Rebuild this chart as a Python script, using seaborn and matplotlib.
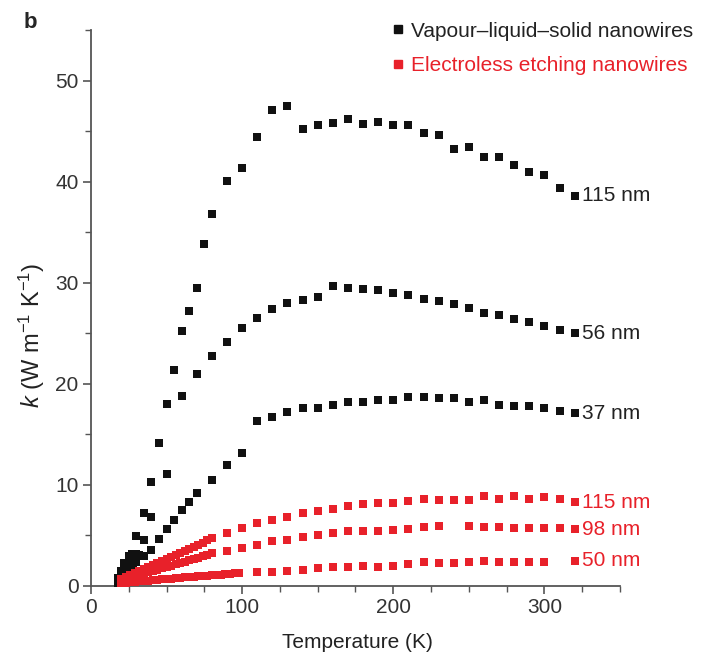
import numpy as np
import pandas as pd
import matplotlib
matplotlib.use('Agg')
import matplotlib.pyplot as plt
from matplotlib.lines import Line2D
from matplotlib.ticker import MultipleLocator
import seaborn as sns

sns.set_theme(style='ticks')
plt.rcParams['font.family'] = ['Liberation Sans Narrow', 'Liberation Sans', 'DejaVu Sans']
plt.rcParams['mathtext.fontset'] = 'custom'
plt.rcParams['mathtext.rm'] = 'Liberation Sans'
plt.rcParams['mathtext.it'] = 'Liberation Sans:italic'

BLACK = '#111111'
RED = '#e8212a'

# Vapour-liquid-solid nanowires
vls115_T = [18, 20, 22, 25, 27, 30, 35, 40, 45, 50, 55, 60, 65, 70, 75, 80, 90, 100, 110, 120, 130,
            140, 150, 160, 170, 180, 190, 200, 210, 220, 230, 240, 250, 260, 270, 280, 290, 300, 310, 320]
vls115_k = [0.8, 1.5, 2.3, 3.0, 3.2, 4.9, 7.2, 10.3, 14.1, 18.0, 21.4, 25.2, 27.2, 29.5, 33.8, 36.8, 40.1, 41.3, 44.4, 47.1, 47.5,
            45.2, 45.6, 45.8, 46.2, 45.7, 45.9, 45.6, 45.6, 44.8, 44.6, 43.2, 43.4, 42.4, 42.4, 41.6, 41.0, 40.7, 39.4, 38.6]

vls56_T = [18, 20, 22, 25, 28, 30, 32, 35, 40, 50, 60, 70, 80, 90, 100, 110, 120, 130, 140, 150, 160, 170,
           180, 190, 200, 210, 220, 230, 240, 250, 260, 270, 280, 290, 300, 310, 320]
vls56_k = [0.5, 1.0, 1.6, 2.3, 3.0, 3.2, 3.1, 4.5, 6.8, 11.1, 18.8, 21.0, 22.8, 24.1, 25.5, 26.5, 27.4, 28.0, 28.3, 28.6, 29.7, 29.5,
           29.4, 29.3, 29.0, 28.8, 28.4, 28.2, 27.9, 27.5, 27.0, 26.8, 26.4, 26.1, 25.7, 25.3, 25.0]

vls37_T = [18, 20, 22, 25, 28, 30, 35, 40, 45, 50, 55, 60, 65, 70, 80, 90, 100, 110, 120, 130, 140, 150, 160,
           170, 180, 190, 200, 210, 220, 230, 240, 250, 260, 270, 280, 290, 300, 310, 320]
vls37_k = [0.3, 0.7, 1.1, 1.6, 2.1, 2.4, 3.0, 3.6, 4.6, 5.6, 6.5, 7.5, 8.3, 9.2, 10.5, 12.0, 13.2, 16.3, 16.7, 17.2, 17.6, 17.6, 17.9,
           18.2, 18.2, 18.4, 18.4, 18.7, 18.7, 18.6, 18.6, 18.2, 18.4, 17.9, 17.8, 17.8, 17.6, 17.3, 17.1]

# Electroless etching nanowires
ee115_T = [20, 23, 26, 29, 32, 35, 38, 41, 44, 47, 50, 53, 56, 59, 62, 65, 68, 71, 74, 77, 80,
           90, 100, 110, 120, 130, 140, 150, 160, 170, 180, 190, 200, 210, 220, 230, 240, 250, 260, 270, 280, 290, 300, 310, 320]
ee115_k = [0.7, 0.9, 1.1, 1.3, 1.5, 1.7, 1.9, 2.1, 2.3, 2.5, 2.7, 2.9, 3.1, 3.3, 3.5, 3.7, 3.9, 4.1, 4.3, 4.5, 4.7,
           5.2, 5.7, 6.2, 6.5, 6.8, 7.2, 7.4, 7.6, 7.9, 8.1, 8.2, 8.2, 8.4, 8.6, 8.5, 8.5, 8.5, 8.9, 8.6, 8.9, 8.6, 8.8, 8.6, 8.3]

ee98_T = [20, 23, 26, 29, 32, 35, 38, 41, 44, 47, 50, 53, 56, 59, 62, 65, 68, 71, 74, 77, 80,
          90, 100, 110, 120, 130, 140, 150, 160, 170, 180, 190, 200, 210, 220, 230, 250, 260, 270, 280, 290, 300, 310, 320]
ee98_k = [0.5, 0.6, 0.8, 0.9, 1.1, 1.2, 1.4, 1.5, 1.6, 1.8, 1.9, 2.0, 2.2, 2.3, 2.4, 2.6, 2.7, 2.8, 3.0, 3.1, 3.3,
          3.5, 3.8, 4.1, 4.4, 4.5, 4.8, 5.0, 5.2, 5.4, 5.4, 5.4, 5.5, 5.6, 5.8, 5.9, 5.9, 5.8, 5.8, 5.7, 5.7, 5.7, 5.7, 5.6]

ee50_T = [20, 23, 26, 29, 32, 35, 38, 41, 44, 47, 50, 53, 56, 59, 62, 65, 68, 71, 74, 77, 80, 83, 86, 89, 92, 95, 98,
          110, 120, 130, 140, 150, 160, 170, 180, 190, 200, 210, 220, 230, 240, 250, 260, 270, 280, 290, 300, 320]
ee50_k = [0.3, 0.3, 0.4, 0.4, 0.5, 0.5, 0.5, 0.6, 0.6, 0.7, 0.7, 0.7, 0.8, 0.8, 0.9, 0.9, 0.9, 1.0, 1.0, 1.0, 1.1, 1.1, 1.1, 1.2, 1.2, 1.3, 1.3,
          1.35, 1.4, 1.5, 1.6, 1.8, 1.9, 1.9, 2.0, 1.9, 2.0, 2.2, 2.4, 2.3, 2.3, 2.4, 2.5, 2.4, 2.4, 2.4, 2.4, 2.5]

series = [
    ('VLS', '115 nm', vls115_T, vls115_k),
    ('VLS', '56 nm', vls56_T, vls56_k),
    ('VLS', '37 nm', vls37_T, vls37_k),
    ('EE', '115 nm', ee115_T, ee115_k),
    ('EE', '98 nm', ee98_T, ee98_k),
    ('EE', '50 nm', ee50_T, ee50_k),
]

df = pd.concat([pd.DataFrame({'T': t, 'k': k, 'type': typ, 'd': d}) for typ, d, t, k in series],
               ignore_index=True)

fig = plt.figure(figsize=(7.08, 6.61), dpi=100)
ax = fig.add_axes([0.1285, 0.1135, 0.7472, 0.8411])

sns.scatterplot(data=df[df['type'] == 'VLS'], x='T', y='k', marker='s', s=30, color=BLACK,
                linewidth=0, ax=ax, legend=False, zorder=3)
sns.scatterplot(data=df[df['type'] == 'EE'], x='T', y='k', marker='s', s=40, color=RED,
                linewidth=0, ax=ax, legend=False, zorder=4)

# diameter labels at the end of each series
for typ, d, t, k in series:
    ax.text(t[-1] + 5, k[-1], d, color='#222222' if typ == 'VLS' else RED,
            fontsize=15, va='center', ha='left')

ax.set_xlim(0, 350)
ax.set_ylim(0, 55)
ax.xaxis.set_major_locator(MultipleLocator(100))
ax.xaxis.set_minor_locator(MultipleLocator(25))
ax.yaxis.set_major_locator(MultipleLocator(10))
ax.yaxis.set_minor_locator(MultipleLocator(5))
ax.tick_params(which='major', length=6, width=1.2, color='#555555', labelsize=15, labelcolor='#333333', pad=3)
ax.tick_params(which='minor', length=4, width=1.0, color='#555555')
for side in ['top', 'right']:
    ax.spines[side].set_visible(False)
for side in ['left', 'bottom']:
    ax.spines[side].set_color('#555555')
    ax.spines[side].set_linewidth(1.3)

ax.set_xlabel('Temperature (K)', fontsize=15, color='#222222')
ax.set_ylabel(r'$k$ (W m$^{-1}$ K$^{-1}$)', fontsize=17, color='#222222')
ax.xaxis.set_label_coords(0.503, -0.085)
ax.yaxis.set_label_coords(-0.083, 0.45)

handles = [Line2D([], [], marker='s', ls='', color=BLACK, ms=6),
           Line2D([], [], marker='s', ls='', color=RED, ms=6)]
ax.legend(handles, ['Vapour\u2013liquid\u2013solid nanowires', 'Electroless etching nanowires'],
          labelcolor=['#222222', RED], loc='upper left', bbox_to_anchor=(0.569, 1.015),
          frameon=False, fontsize=15, handlelength=0.6, handletextpad=0.3,
          borderpad=0, borderaxespad=0, labelspacing=0.75)

fig.text(0.034, 0.982, 'b', fontsize=16, fontweight='bold', va='top', ha='left', family='Liberation Sans')

fig.savefig('out.png', dpi=100)
